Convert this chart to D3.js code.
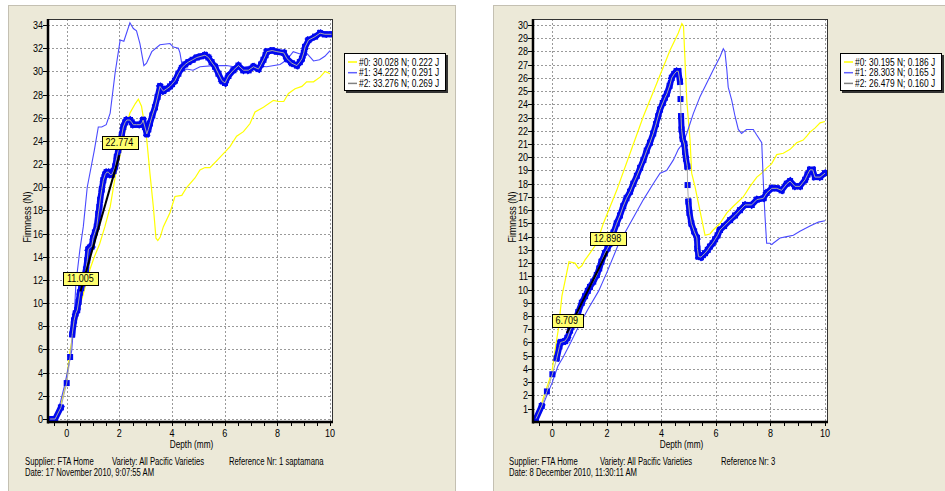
<!DOCTYPE html>
<html><head><meta charset="utf-8">
<script src="https://cdn.jsdelivr.net/npm/d3@7"></script>
<style>
body{margin:0;background:#fff;}
text{font-family:"Liberation Sans",Arial,sans-serif;fill:#000;}
</style></head>
<body><svg id="c" width="945" height="491"></svg>
<script>
// ---------------- DATA ----------------
const xTickLabels = [0, 2, 4, 6, 8, 10];
const xMinorTicks = [-0.5,0,0.5,1,1.5,2,2.5,3,3.5,4,4.5,5,5.5,6,6.5,7,7.5,8,8.5,9,9.5,10];
const leftYTicks = [0,2,4,6,8,10,12,14,16,18,20,22,24,26,28,30,32,34];
const rightYTicks = [1,2,3,4,5,6,7,8,9,10,11,12,13,14,15,16,17,18,19,20,21,22,23,24,25,26,27,28,29,30];

const leftLegend = ["#0: 30.028 N; 0.222 J", "#1: 34.222 N; 0.291 J", "#2: 33.276 N; 0.269 J"];
const rightLegend = ["#0: 30.195 N; 0.186 J", "#1: 28.303 N; 0.165 J", "#2: 26.479 N; 0.160 J"];

const leftFooter = ["Supplier: FTA Home", "Variety: All Pacific Varieties", "Reference Nr: 1 saptamana", "Date: 17 November 2010, 9:07:55 AM"];
const rightFooter = ["Supplier: FTA Home", "Variety: All Pacific Varieties", "Reference Nr: 3", "Date: 8 December 2010, 11:30:11 AM"];

// gradient annotation points [depth, force]
const leftAnnot = [[0.52, 11.005], [2.0, 22.774]];
const rightAnnot = [[0.53, 6.709], [2.02, 12.898]];

// Left chart series [depth mm, force N]
const left0 = [[-0.6,0],[-0.44,0.1],[-0.2,1.5],[-0.03,3.1],[0.13,5.9],[0.25,7.4],[0.57,10.3],[0.88,12.9],[1.05,14.0],[1.25,15.1],[1.45,16.6],[1.65,18.3],[1.84,20.9],[2.03,22.8],[2.22,24.9],[2.4,26.4],[2.6,27.2],[2.72,27.6],[2.84,27.0],[2.94,25.6],[3.04,24.1],[3.16,21.2],[3.29,18.3],[3.39,15.6],[3.46,15.4],[3.55,15.7],[3.67,16.6],[3.92,17.8],[4.11,19.2],[4.37,19.3],[4.56,20.0],[4.87,20.8],[5.06,21.5],[5.25,21.7],[5.44,21.7],[5.7,22.3],[5.95,22.9],[6.2,23.5],[6.45,24.4],[6.71,24.8],[6.96,25.5],[7.15,26.5],[7.47,26.9],[7.85,27.5],[8.04,27.4],[8.24,27.4],[8.42,28.1],[8.67,28.5],[8.93,28.7],[9.11,29.1],[9.37,29.1],[9.62,29.5],[9.81,30.0],[10.0,29.8]];
const left1 = [[-0.6,0],[-0.44,0],[-0.3,0.9],[-0.06,3.1],[0.19,5.9],[0.24,7.4],[0.3,9.5],[0.35,11.7],[0.5,14.6],[0.63,16.6],[0.78,20.0],[1.05,23.2],[1.2,25.2],[1.33,25.2],[1.5,25.4],[1.65,26.4],[1.84,29.9],[2.03,32.7],[2.17,32.6],[2.4,34.2],[2.53,33.7],[2.65,33.5],[2.78,32.4],[2.93,30.5],[3.03,30.7],[3.23,31.7],[3.54,32.3],[3.92,32.4],[4.05,32.1],[4.24,32.0],[4.3,31.6],[4.42,30.0],[4.55,30.2],[4.8,30.1],[5.06,30.4],[5.57,30.5],[6.07,30.5],[6.58,30.3],[7.09,30.5],[7.59,30.4],[8.1,30.6],[8.36,31.0],[8.6,31.7],[8.86,31.5],[9.1,31.6],[9.37,30.9],[9.6,31.0],[9.8,31.3],[10.0,31.8]];
const left2 = [[-0.63,0],[-0.44,0],[-0.22,1.0],[0,3.1],[0.13,5.35],[0.21,7.3],[0.28,8.5],[0.34,9.1],[0.4,9.4],[0.45,10.1],[0.5,10.9],[0.55,11.3],[0.6,11.7],[0.67,12.3],[0.73,12.9],[0.78,13.7],[0.82,14.6],[0.88,14.8],[0.95,14.9],[1.0,15.6],[1.07,16.1],[1.14,16.6],[1.2,17.7],[1.24,18.3],[1.27,18.9],[1.33,19.8],[1.39,20.6],[1.46,21.1],[1.52,21.3],[1.58,21.3],[1.65,21.1],[1.71,21.1],[1.78,21.4],[1.84,21.8],[1.9,22.6],[1.96,23.2],[2.03,23.8],[2.09,24.5],[2.15,25.2],[2.22,25.6],[2.28,25.8],[2.4,25.8],[2.47,25.6],[2.53,25.4],[2.65,25.4],[2.78,25.4],[2.85,25.5],[2.9,25.8],[2.97,25.2],[3.04,24.6],[3.1,25.0],[3.16,25.5],[3.25,26.2],[3.35,26.9],[3.45,27.8],[3.54,28.7],[3.6,28.5],[3.67,28.3],[3.8,28.5],[3.92,28.7],[4.0,28.9],[4.11,29.2],[4.24,29.8],[4.37,30.3],[4.5,30.6],[4.62,30.8],[4.78,31.0],[4.94,31.2],[5.1,31.3],[5.25,31.4],[5.38,31.2],[5.5,30.8],[5.63,30.4],[5.76,29.8],[5.89,29.2],[6.01,29.0],[6.14,29.6],[6.33,30.1],[6.52,30.5],[6.71,30.1],[6.9,30.1],[7.09,30.4],[7.28,30.2],[7.38,30.6],[7.47,31.0],[7.55,31.4],[7.6,31.7],[7.8,31.8],[7.98,31.7],[8.24,31.6],[8.36,31.1],[8.55,30.7],[8.74,30.5],[8.85,30.8],[8.93,31.1],[9.0,31.6],[9.05,32.1],[9.18,32.7],[9.43,33.0],[9.62,33.3],[9.8,33.2],[10.05,33.2]];

// Right chart series
const right0 = [[-0.6,0.1],[-0.57,0.24],[-0.27,2.2],[-0.02,3.7],[0.1,5.45],[0.22,7.0],[0.35,9.5],[0.47,10.7],[0.61,12.1],[0.83,12.0],[0.96,11.6],[1.08,11.8],[1.2,12.25],[1.38,12.75],[1.63,13.5],[1.87,15.0],[2.36,17.5],[2.85,20.3],[3.34,23.1],[3.83,25.6],[4.32,28.1],[4.62,29.4],[4.75,30.1],[4.81,29.9],[4.93,24.3],[5.05,21.3],[5.11,18.8],[5.23,17.8],[5.36,16.5],[5.48,15.3],[5.6,14.1],[5.78,14.2],[5.9,14.5],[6.15,15.0],[6.4,15.8],[6.64,16.3],[7.0,17.0],[7.25,17.8],[7.5,18.5],[7.68,18.8],[7.86,19.2],[8.04,19.5],[8.23,20.2],[8.47,20.3],[8.72,20.6],[8.96,21.1],[9.2,21.3],[9.33,21.6],[9.45,21.9],[9.63,22.2],[9.82,22.6],[10.0,22.7]];
const right1 = [[-0.6,0.15],[-0.3,1.5],[0,3.0],[0.2,4.2],[0.4,4.9],[0.65,5.9],[0.96,7.2],[1.3,8.5],[1.7,9.9],[2.0,11.3],[2.42,13.4],[2.85,15.0],[3.34,16.8],[3.7,18.0],[3.95,18.8],[4.19,19.0],[4.44,19.8],[4.62,20.6],[4.8,21.1],[4.93,21.8],[5.17,23.3],[5.42,24.6],[5.66,25.6],[5.9,26.6],[6.15,27.6],[6.27,28.2],[6.33,28.0],[6.4,26.6],[6.45,25.3],[6.58,24.3],[6.7,23.1],[6.82,22.1],[6.94,21.8],[7.12,22.1],[7.37,22.1],[7.49,21.7],[7.68,21.1],[7.74,18.0],[7.8,15.5],[7.86,13.5],[7.98,13.5],[8.05,13.4],[8.1,13.5],[8.35,13.9],[8.6,14.0],[8.84,14.1],[9.08,14.4],[9.45,14.8],[9.76,15.1],[10.0,15.2]];
const right2 = [[-0.6,0.24],[-0.39,1.2],[-0.2,2.3],[0,3.6],[0.16,4.8],[0.26,5.7],[0.3,6.0],[0.38,6.05],[0.46,6.1],[0.55,6.35],[0.65,6.9],[0.74,7.3],[0.83,7.7],[0.95,8.3],[1.08,9.0],[1.2,9.5],[1.3,9.9],[1.38,10.2],[1.5,10.6],[1.63,11.1],[1.72,11.6],[1.8,12.1],[1.93,12.75],[2.02,13.1],[2.12,13.5],[2.24,14.3],[2.36,15.0],[2.48,15.6],[2.6,16.3],[2.72,16.9],[2.85,17.4],[2.97,18.0],[3.1,18.6],[3.22,19.2],[3.34,19.8],[3.46,20.5],[3.58,21.1],[3.7,21.8],[3.8,22.5],[3.88,23.1],[3.95,23.6],[4.05,24.1],[4.13,24.5],[4.2,24.8],[4.3,25.4],[4.38,26.0],[4.47,26.3],[4.56,26.5],[4.62,26.5],[4.68,25.7],[4.7,24.4],[4.72,23.1],[4.74,22.1],[4.78,21.4],[4.84,21.0],[4.87,20.4],[4.9,19.9],[4.95,19.3],[4.96,17.9],[4.99,16.65],[5.03,15.8],[5.1,15.0],[5.2,14.4],[5.3,13.9],[5.32,13.1],[5.36,12.5],[5.45,12.45],[5.52,12.6],[5.6,12.75],[5.7,13.0],[5.78,13.25],[5.88,13.5],[5.97,13.8],[6.06,14.1],[6.15,14.5],[6.3,14.8],[6.52,15.25],[6.7,15.6],[6.88,16.0],[7.07,16.4],[7.31,16.4],[7.5,16.8],[7.74,16.9],[7.86,17.3],[8.05,17.65],[8.23,17.65],[8.41,17.5],[8.6,18.0],[8.72,18.2],[8.9,17.8],[9.08,17.8],[9.27,18.3],[9.36,18.7],[9.45,19.05],[9.55,19.05],[9.63,18.5],[9.82,18.5],[10.0,18.8]];

// ---------------- DRAW ----------------
const svg = d3.select("#c");
const COL0 = "#ffff00", COL1 = "#4a4aff", COL2 = "#0008f0", COLG = "#a8a8a8";

// horizontally condensed text (reference font is narrow)
function txt(parent, x, y, s, size, sx, anchor) {
  return parent.append("text")
    .attr("transform", `translate(${x},${y}) scale(${sx},1)`)
    .attr("font-size", size).attr("text-anchor", anchor || "start").text(s);
}

function drawChart(cfg) {
  const g = svg.append("g");
  g.append("rect").attr("x", cfg.panel[0] + 0.5).attr("y", 5.5)
    .attr("width", cfg.panel[1] - cfg.panel[0]).attr("height", 500)
    .attr("fill", "#ece9d8").attr("stroke", "#c4c0b2");
  const x = d3.scaleLinear().domain(cfg.xDom).range([cfg.L, cfg.R]);
  const y = d3.scaleLinear().domain(cfg.yDom).range([cfg.B, cfg.T]);
  g.append("rect").attr("x", cfg.L).attr("y", cfg.T).attr("width", cfg.R - cfg.L).attr("height", cfg.B - cfg.T).attr("fill", "#fff");
  const clipId = "clip" + cfg.id;
  svg.append("clipPath").attr("id", clipId).append("rect")
    .attr("x", cfg.L).attr("y", cfg.T).attr("width", cfg.R - cfg.L).attr("height", cfg.B - cfg.T);
  // grid
  const grid = g.append("g").attr("stroke", "#9a9a9a").attr("stroke-dasharray", "2,2").attr("stroke-width", 1);
  grid.selectAll("line.v").data(xTickLabels).join("line")
    .attr("x1", d => Math.round(x(d)) + 0.5).attr("x2", d => Math.round(x(d)) + 0.5)
    .attr("y1", cfg.T).attr("y2", cfg.B);
  grid.selectAll("line.h").data(cfg.yTicks).join("line")
    .attr("y1", d => Math.round(y(d)) + 0.5).attr("y2", d => Math.round(y(d)) + 0.5)
    .attr("x1", cfg.L).attr("x2", cfg.R);

  const pg = g.append("g").attr("clip-path", `url(#${clipId})`);
  const line = d3.line().x(d => x(d[0])).y(d => y(d[1]));
  pg.append("path").attr("d", line(cfg.s0)).attr("fill", "none").attr("stroke", COL0).attr("stroke-width", 1.2);
  pg.append("path").attr("d", line(cfg.s1)).attr("fill", "none").attr("stroke", COL1).attr("stroke-width", 1.1);
  // dense marker band for series 2 (only where markers overlap)
  let band = "";
  for (let i = 1; i < cfg.s2.length; i++) {
    const a = cfg.s2[i - 1], b = cfg.s2[i];
    const dx = x(b[0]) - x(a[0]), dy = y(b[1]) - y(a[1]);
    if (Math.hypot(dx, dy) < 15) band += `M${x(a[0])},${y(a[1])}L${x(b[0])},${y(b[1])}`;
  }
  pg.append("path").attr("d", band).attr("fill", "none").attr("stroke", COL2).attr("stroke-width", 6).attr("stroke-linecap", "square").attr("stroke-linejoin", "round");
  pg.selectAll("rect.m").data(cfg.s2).join("rect").attr("class", "m")
    .attr("x", d => x(d[0]) - 3).attr("y", d => y(d[1]) - 3).attr("width", 6).attr("height", 6).attr("fill", COL2);
  pg.append("path").attr("d", line(cfg.s2)).attr("fill", "none").attr("stroke", COLG).attr("stroke-width", 1);
  pg.append("path").attr("d", line(cfg.annot)).attr("stroke", "#000").attr("stroke-width", 2).attr("fill", "none");

  // frame and axes
  g.append("rect").attr("x", cfg.L + 0.5).attr("y", cfg.T + 0.5).attr("width", cfg.R - cfg.L - 1).attr("height", cfg.B - cfg.T - 1)
    .attr("fill", "none").attr("stroke", "#333");
  g.append("line").attr("x1", cfg.L).attr("x2", cfg.L).attr("y1", cfg.T).attr("y2", cfg.B + 1.5).attr("stroke", "#000").attr("stroke-width", 2.5);
  g.append("line").attr("x1", cfg.L).attr("x2", cfg.R).attr("y1", cfg.B).attr("y2", cfg.B).attr("stroke", "#000").attr("stroke-width", 2.5);

  // y ticks
  const yt = g.append("g");
  yt.selectAll("line").data(cfg.yTicks).join("line")
    .attr("x1", cfg.L - 5).attr("x2", cfg.L).attr("y1", d => Math.round(y(d)) + 0.5).attr("y2", d => Math.round(y(d)) + 0.5)
    .attr("stroke", "#000");
  cfg.yTicks.forEach(d => txt(yt, cfg.L - 5, y(d) + 4, d, 11, 0.82, "end"));
  // x ticks
  const xt = g.append("g");
  xt.selectAll("line").data(xMinorTicks).join("line")
    .attr("x1", d => Math.round(x(d)) + 0.5).attr("x2", d => Math.round(x(d)) + 0.5)
    .attr("y1", cfg.B).attr("y2", cfg.B + 4).attr("stroke", "#000");
  xTickLabels.forEach(d => txt(xt, x(d), cfg.B + 15, d, 11, 0.82, "middle"));
  // axis titles
  txt(g, (cfg.L + cfg.R) / 2 + 1, 448, "Depth (mm)", 11, 0.75, "middle");
  g.append("text").attr("transform", `translate(${cfg.L - 17},217) rotate(-90) scale(0.8,1)`)
    .attr("text-anchor", "middle").attr("font-size", 11).text("Firmness (N)");

  // annotation labels
  cfg.annot.forEach(p => {
    const cx = x(p[0]), cy = y(p[1]);
    const lg = g.append("g");
    const tx = txt(lg, cx, cy - 9.5, p[1].toFixed(3), 11, 0.82, "middle");
    const w = tx.node().getComputedTextLength() * 0.82 + 8;
    lg.insert("rect", "text").attr("x", Math.round(cx - w / 2) + 0.5).attr("y", Math.round(cy - 19) + 0.5).attr("width", Math.round(w)).attr("height", 13)
      .attr("fill", "#ffff6e").attr("stroke", "#000");
  });

  // legend
  const lx = cfg.legend, ly = 53;
  g.append("rect").attr("x", lx + 2).attr("y", ly + 2).attr("width", 102).attr("height", 38).attr("fill", "#333");
  g.append("rect").attr("x", lx + 0.5).attr("y", ly + 0.5).attr("width", 101).attr("height", 37).attr("fill", "#fff").attr("stroke", "#000");
  const lcol = [COL0, "#6060ff", "#808080"];
  cfg.legendText.forEach((t, i) => {
    const yy = ly + 9 + i * 10.7;
    g.append("line").attr("x1", lx + 4).attr("x2", lx + 13).attr("y1", yy).attr("y2", yy).attr("stroke", lcol[i]).attr("stroke-width", 1.5);
    txt(g, lx + 15, yy + 3.5, t, 10, 0.84);
  });

  // footer
  const f = cfg.footer;
  txt(g, cfg.fx[0], 465, f[0], 11, 0.7);
  txt(g, cfg.fx[1], 465, f[1], 11, 0.7);
  txt(g, cfg.fx[2], 465, f[2], 11, 0.7);
  txt(g, cfg.fx[0], 476, f[3], 11, 0.7);
}

drawChart({
  id: "L", panel: [8, 455], L: 48, R: 333, T: 19, B: 422,
  xDom: [-0.71, 10.11], yDom: [-0.26, 34.52], yTicks: leftYTicks,
  s0: left0, s1: left1, s2: left2, annot: leftAnnot,
  legend: 344, legendText: leftLegend, footer: leftFooter, fx: [25, 112, 229]
});
drawChart({
  id: "R", panel: [493, 960], L: 533, R: 828, T: 19, B: 422,
  xDom: [-0.71, 10.11], yDom: [-0.01, 30.45], yTicks: rightYTicks,
  s0: right0, s1: right1, s2: right2, annot: rightAnnot,
  legend: 840, legendText: rightLegend, footer: rightFooter, fx: [509, 600, 721]
});
</script>
</body></html>
